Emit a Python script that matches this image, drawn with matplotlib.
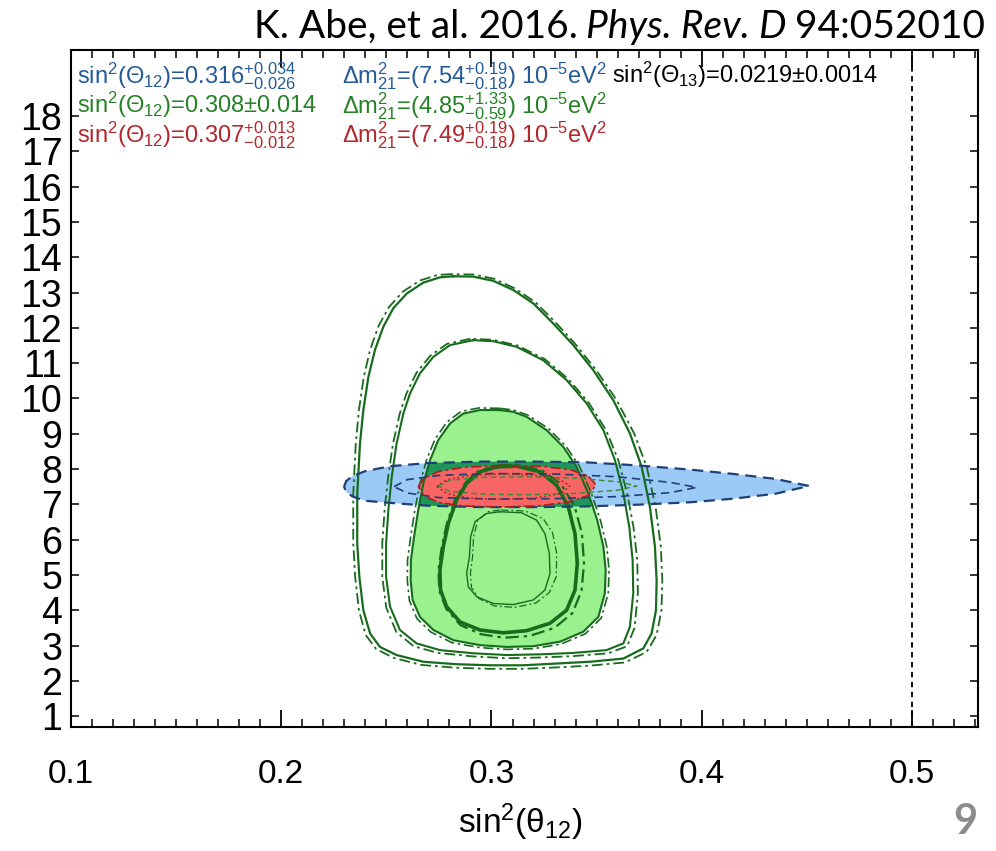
import matplotlib
matplotlib.use('Agg')
import matplotlib.pyplot as plt
from matplotlib.patches import Polygon
from matplotlib.ticker import MultipleLocator

plt.rcParams['font.family'] = ['Liberation Sans', 'DejaVu Sans']
plt.rcParams['mathtext.fontset'] = 'custom'
plt.rcParams['mathtext.rm'] = 'Liberation Sans'
plt.rcParams['mathtext.it'] = 'Liberation Sans:italic'
plt.rcParams['mathtext.bf'] = 'Liberation Sans:bold'

# ---------------- data ----------------
# solar outermost contour (solid) and its dash-dot companion
solA_x = [0.2819, 0.2755, 0.2676, 0.2597, 0.2533, 0.2486, 0.2446, 0.2415, 0.2391, 0.2375, 0.2362,
          0.2362, 0.2372, 0.2391, 0.2423, 0.2470, 0.2549, 0.2676, 0.2834, 0.2993, 0.3151, 0.3310,
          0.3468, 0.3627, 0.3722, 0.3761, 0.3782, 0.3785, 0.3777, 0.3753, 0.3714, 0.3658, 0.3579,
          0.3484, 0.3389, 0.3294, 0.3199, 0.3104, 0.3009, 0.2914]
solA_y = [13.46, 13.43, 13.28, 12.97, 12.55, 12.03, 11.37, 10.61, 9.67, 8.72, 7.31,
          5.89, 4.95, 4.00, 3.34, 2.96, 2.73, 2.54, 2.47, 2.44, 2.44, 2.49,
          2.54, 2.63, 2.92, 3.34, 4.00, 4.85, 5.80, 6.93, 8.06, 9.01, 9.95,
          10.80, 11.51, 12.12, 12.69, 13.07, 13.33, 13.45]
solA2_x = [0.2810, 0.2745, 0.2660, 0.2578, 0.2512, 0.2463, 0.2423, 0.2393, 0.2370, 0.2355, 0.2343,
           0.2343, 0.2352, 0.2370, 0.2402, 0.2452, 0.2535, 0.2666, 0.2830, 0.2993, 0.3151, 0.3310,
           0.3468, 0.3635, 0.3738, 0.3785, 0.3808, 0.3812, 0.3805, 0.3780, 0.3738, 0.3678, 0.3595,
           0.3498, 0.3400, 0.3305, 0.3208, 0.3110, 0.3012, 0.2914]
solA2_y = [13.52, 13.50, 13.34, 13.02, 12.58, 12.05, 11.37, 10.61, 9.67, 8.72, 7.31,
           5.89, 4.95, 4.00, 3.30, 2.90, 2.65, 2.45, 2.37, 2.34, 2.34, 2.38,
           2.43, 2.52, 2.82, 3.30, 4.00, 4.85, 5.80, 6.93, 8.06, 9.01, 9.95,
           10.80, 11.53, 12.15, 12.73, 13.12, 13.39, 13.51]
# second contour
solB_x = [0.2914, 0.2803, 0.2724, 0.2660, 0.2613, 0.2581, 0.2549, 0.2526, 0.2510, 0.2499, 0.2499,
          0.2518, 0.2565, 0.2644, 0.2755, 0.2914, 0.3072, 0.3231, 0.3389, 0.3547, 0.3627, 0.3658,
          0.3674, 0.3671, 0.3655, 0.3627, 0.3587, 0.3532, 0.3452, 0.3357, 0.3246, 0.3120, 0.3009]
solB_y = [11.65, 11.51, 11.18, 10.71, 10.14, 9.57, 8.72, 7.78, 6.84, 5.89, 4.95,
          4.10, 3.44, 3.06, 2.87, 2.78, 2.73, 2.75, 2.79, 2.87, 3.06, 3.53,
          4.48, 5.42, 6.36, 7.31, 8.25, 9.10, 9.86, 10.52, 11.08, 11.46, 11.62]
solB2_x = [0.2900, 0.2790, 0.2708, 0.2643, 0.2596, 0.2564, 0.2532, 0.2509, 0.2492, 0.2481, 0.2481,
           0.2500, 0.2548, 0.2630, 0.2745, 0.2914, 0.3072, 0.3231, 0.3389, 0.3555, 0.3645, 0.3680,
           0.3696, 0.3693, 0.3675, 0.3645, 0.3603, 0.3545, 0.3462, 0.3365, 0.3252, 0.3122, 0.3009]
solB2_y = [11.69, 11.55, 11.20, 10.72, 10.14, 9.57, 8.72, 7.78, 6.84, 5.89, 4.95,
           4.07, 3.38, 2.98, 2.79, 2.69, 2.64, 2.66, 2.70, 2.78, 2.98, 3.50,
           4.48, 5.42, 6.36, 7.31, 8.25, 9.10, 9.88, 10.55, 11.12, 11.50, 11.66]
# filled contour
solC_x = [0.3040, 0.2945, 0.2866, 0.2803, 0.2747, 0.2708, 0.2676, 0.2652, 0.2632, 0.2617, 0.2616,
          0.2625, 0.2660, 0.2724, 0.2819, 0.2945, 0.3072, 0.3199, 0.3326, 0.3436, 0.3508, 0.3539,
          0.3543, 0.3532, 0.3503, 0.3460, 0.3405, 0.3341, 0.3262, 0.3167, 0.3104]
solC_y = [9.67, 9.67, 9.57, 9.29, 8.82, 8.25, 7.59, 6.84, 6.08, 5.42, 4.85,
          4.29, 3.81, 3.44, 3.15, 3.01, 2.96, 2.98, 3.11, 3.39, 3.81, 4.48,
          5.14, 5.80, 6.55, 7.31, 8.06, 8.63, 9.10, 9.48, 9.62]
solC2_x = [0.3040, 0.2940, 0.2855, 0.2788, 0.2732, 0.2692, 0.2660, 0.2636, 0.2616, 0.2601, 0.2600,
           0.2610, 0.2646, 0.2712, 0.2812, 0.2945, 0.3072, 0.3199, 0.3330, 0.3446, 0.3522, 0.3555,
           0.3559, 0.3548, 0.3518, 0.3475, 0.3418, 0.3352, 0.3270, 0.3172, 0.3104]
solC2_y = [9.72, 9.73, 9.63, 9.33, 8.85, 8.27, 7.59, 6.84, 6.08, 5.42, 4.85,
           4.27, 3.76, 3.38, 3.08, 2.94, 2.89, 2.91, 3.04, 3.33, 3.78, 4.48,
           5.14, 5.80, 6.55, 7.31, 8.08, 8.66, 9.15, 9.53, 9.67]
# thick inner contour
solD_x = [0.3025, 0.2945, 0.2882, 0.2834, 0.2795, 0.2771, 0.2755, 0.2758, 0.2787, 0.2850, 0.2945,
          0.3056, 0.3167, 0.3278, 0.3357, 0.3397, 0.3408, 0.3397, 0.3365, 0.3310, 0.3231, 0.3120]
solD_y = [8.06, 7.92, 7.59, 7.12, 6.46, 5.80, 5.14, 4.57, 4.10, 3.67, 3.44,
          3.36, 3.42, 3.63, 4.00, 4.57, 5.32, 6.17, 6.93, 7.54, 7.92, 8.08]
solD2_x = [0.3025, 0.2940, 0.2876, 0.2827, 0.2788, 0.2764, 0.2748, 0.2752, 0.2785, 0.2852, 0.2950,
           0.3060, 0.3180, 0.3300, 0.3385, 0.3428, 0.3440, 0.3430, 0.3395, 0.3330, 0.3240, 0.3125]
solD2_y = [8.10, 7.95, 7.61, 7.13, 6.46, 5.80, 5.14, 4.55, 4.04, 3.58, 3.32,
           3.22, 3.27, 3.50, 3.92, 4.55, 5.32, 6.17, 6.95, 7.58, 7.96, 8.12]
# smallest contour
solE_x = [0.3040, 0.2977, 0.2922, 0.2901, 0.2895, 0.2882, 0.2890, 0.2930, 0.3009, 0.3104, 0.3199,
          0.3254, 0.3278, 0.3275, 0.3254, 0.3215, 0.3143]
solE_y = [6.79, 6.74, 6.51, 6.08, 5.51, 5.04, 4.66, 4.38, 4.19, 4.16, 4.29,
          4.57, 5.04, 5.61, 6.17, 6.55, 6.76]
solE2_x = [0.3040, 0.2985, 0.2935, 0.2915, 0.2910, 0.2900, 0.2905, 0.2940, 0.3015, 0.3110, 0.3210,
           0.3275, 0.3308, 0.3310, 0.3290, 0.3245, 0.3160]
solE2_y = [6.84, 6.79, 6.55, 6.08, 5.51, 5.04, 4.64, 4.33, 4.12, 4.08, 4.20,
           4.50, 4.95, 5.61, 6.20, 6.60, 6.81]
# KamLAND (blue) region and inner contour
kl_x = [0.2299, 0.2310, 0.2340, 0.2400, 0.2520, 0.2700, 0.2950, 0.3200, 0.3450, 0.3700, 0.3950,
        0.4150, 0.4350, 0.4509, 0.4350, 0.4150, 0.3950, 0.3700, 0.3450, 0.3200, 0.2950, 0.2700,
        0.2520, 0.2400, 0.2340, 0.2310]
kl_y = [7.50, 7.66, 7.80, 7.94, 8.08, 8.17, 8.21, 8.21, 8.19, 8.10, 7.98,
        7.86, 7.72, 7.52, 7.30, 7.16, 7.06, 6.99, 6.94, 6.92, 6.92, 6.96,
        7.04, 7.10, 7.22, 7.35]
klin_x = [0.2537, 0.2600, 0.2750, 0.3000, 0.3300, 0.3600, 0.3850, 0.3975, 0.3850, 0.3600, 0.3300,
          0.3000, 0.2750, 0.2600]
klin_y = [7.50, 7.70, 7.82, 7.87, 7.86, 7.78, 7.62, 7.48, 7.33, 7.22, 7.16,
          7.15, 7.19, 7.32]
# combined (red) region and inner contours
cb_x = [0.2652, 0.2680, 0.2750, 0.2870, 0.3050, 0.3250, 0.3380, 0.3460, 0.3497, 0.3460, 0.3370,
        0.3230, 0.3050, 0.2870, 0.2750, 0.2680]
cb_y = [7.50, 7.75, 7.93, 8.05, 8.10, 8.07, 7.97, 7.80, 7.55, 7.25, 7.07,
        6.96, 6.92, 6.95, 7.05, 7.24]
cbin_x = [0.2740, 0.2790, 0.2900, 0.3050, 0.3200, 0.3320, 0.3373, 0.3330, 0.3210, 0.3050, 0.2900,
          0.2790]
cbin_y = [7.50, 7.70, 7.82, 7.86, 7.83, 7.72, 7.52, 7.30, 7.18, 7.14, 7.17,
          7.30]
gin_x = [0.2746, 0.2800, 0.2950, 0.3150, 0.3400, 0.3600, 0.3690, 0.3600, 0.3400, 0.3150, 0.2950,
         0.2800]
gin_y = [7.52, 7.68, 7.76, 7.78, 7.74, 7.64, 7.52, 7.40, 7.31, 7.27, 7.29,
         7.37]

maximal_mixing = 0.5
x_ticks = [0.1, 0.2, 0.3, 0.4, 0.5]
x_ticklabels = ['0.1', '0.2', '0.3', '0.4', '0.5']
y_ticks = list(range(1, 19))
y_ticklabels = [str(v) for v in y_ticks]

# ---------------- styles ----------------
C_GREEN_LINE = '#176b1c'
C_GREEN_FILL = '#9af28e'
C_BLUE_FILL = '#9ccaf7'
C_BLUE_LINE = '#1f3f78'
C_RED_FILL = '#f86565'
C_RED_LINE = '#b01c1c'
C_OVERLAP = '#1f955a'
DASHDOT = (0, (6, 2.2, 1.5, 2.2))


def closed(xs, ys):
    return list(xs) + [xs[0]], list(ys) + [ys[0]]


def poly(xs, ys, **kw):
    return Polygon(list(zip(xs, ys)), closed=True, **kw)


fig = plt.figure(figsize=(9.96, 8.51), dpi=100)
ax = fig.add_axes([0.07098, 0.14606, 0.91125, 0.79518])

# filled regions
ax.add_patch(poly(kl_x, kl_y, facecolor=C_BLUE_FILL, edgecolor='none', zorder=1))
green_patch = poly(solC_x, solC_y, facecolor=C_GREEN_FILL, edgecolor='none', zorder=2)
ax.add_patch(green_patch)
ov = poly(kl_x, kl_y, facecolor=C_OVERLAP, edgecolor='none', zorder=3)
ax.add_patch(ov)
ov.set_clip_path(green_patch)
ax.add_patch(poly(cb_x, cb_y, facecolor=C_RED_FILL, edgecolor='none', zorder=4))

# solar contour lines
for xs, ys, lw in [(solA_x, solA_y, 1.6), (solB_x, solB_y, 1.5), (solC_x, solC_y, 1.5),
                   (solD_x, solD_y, 2.6), (solE_x, solE_y, 1.0)]:
    cx, cy = closed(xs, ys)
    ax.plot(cx, cy, color=C_GREEN_LINE, lw=lw, zorder=6, solid_joinstyle='round')
for xs, ys, lw in [(solA2_x, solA2_y, 1.3), (solB2_x, solB2_y, 1.3), (solC2_x, solC2_y, 1.2),
                   (solD2_x, solD2_y, 1.6), (solE2_x, solE2_y, 0.9)]:
    cx, cy = closed(xs, ys)
    ax.plot(cx, cy, color=C_GREEN_LINE, lw=lw, ls=DASHDOT, zorder=6)

# KamLAND / combined outlines
cx, cy = closed(kl_x, kl_y)
ax.plot(cx, cy, color=C_BLUE_LINE, lw=1.6, ls=(0, (5, 3)), zorder=7)
cx, cy = closed(klin_x, klin_y)
ax.plot(cx, cy, color=C_BLUE_LINE, lw=1.2, ls=(0, (5, 3)), zorder=7)
cx, cy = closed(cb_x, cb_y)
ax.plot(cx, cy, color=C_RED_LINE, lw=1.2, ls=DASHDOT, zorder=7)
cx, cy = closed(cbin_x, cbin_y)
ax.plot(cx, cy, color=C_RED_LINE, lw=1.1, ls=(0, (1.2, 1.8)), zorder=7)
cx, cy = closed(gin_x, gin_y)
ax.plot(cx, cy, color='#3a8a2a', lw=1.0, ls=(0, (4, 2.5)), zorder=7)

# maximal mixing line
ax.axvline(maximal_mixing, color='black', lw=1.3, ls=(0, (3, 2.5)), zorder=5)

# axes
ax.set_xlim(0.1, 0.5314)
ax.set_ylim(0.70, 19.87)
ax.set_xticks(x_ticks)
ax.set_xticklabels(x_ticklabels)
ax.xaxis.set_minor_locator(MultipleLocator(0.01))
ax.set_yticks(y_ticks)
ax.set_yticklabels(y_ticklabels)
ax.set_yticks([10], minor=True)
for s in ax.spines.values():
    s.set_linewidth(1.5)
ax.tick_params(axis='x', which='major', direction='in', top=True, length=12, width=1.3,
               labelsize=24, pad=23)
ax.tick_params(axis='x', which='minor', direction='in', top=True, length=6, width=1.1)
ax.tick_params(axis='y', which='major', direction='in', right=True, length=6, width=1.1,
               labelsize=27, pad=6)
ax.tick_params(axis='y', which='minor', direction='in', right=True, length=12, width=1.3)

# in-plot legend text
FS = 17
rows = [0.9512, 0.9069, 0.8640]
ax.text(0.0069, rows[0], 'sin$^2$(Θ$_{12}$)=0.316$^{+0.034}_{-0.026}$', color='#245a9a',
        fontsize=FS, transform=ax.transAxes, va='baseline')
ax.text(0.0069, rows[1], 'sin$^2$(Θ$_{12}$)=0.308±0.014', color='#268226',
        fontsize=FS, transform=ax.transAxes, va='baseline')
ax.text(0.0069, rows[2], 'sin$^2$(Θ$_{12}$)=0.307$^{+0.013}_{-0.012}$', color='#b3262b',
        fontsize=FS, transform=ax.transAxes, va='baseline')
ax.text(0.2986, rows[0], 'Δm$^2_{21}$=(7.54$^{+0.19}_{-0.18}$) 10$^{-5}$eV$^2$', color='#245a9a',
        fontsize=FS, transform=ax.transAxes, va='baseline')
ax.text(0.2986, rows[1], 'Δm$^2_{21}$=(4.85$^{+1.33}_{-0.59}$) 10$^{-5}$eV$^2$', color='#268226',
        fontsize=FS, transform=ax.transAxes, va='baseline')
ax.text(0.2986, rows[2], 'Δm$^2_{21}$=(7.49$^{+0.19}_{-0.18}$) 10$^{-5}$eV$^2$', color='#b3262b',
        fontsize=FS, transform=ax.transAxes, va='baseline')
ax.text(0.596, rows[0], 'sin$^2$(Θ$_{13}$)=0.0219±0.0014', color='black',
        fontsize=FS, transform=ax.transAxes, va='baseline')

# x label
fig.text(0.523, 1 - 822 / 851, 'sin$^2$(θ$_{12}$)', fontsize=24, ha='center', va='center')

# citation
TF = 28
t3 = fig.text(0.989, 1 - 38 / 851, '94:052010', fontsize=TF, family='Lato', ha='right',
              va='baseline')
t2 = ax.annotate('Phys. Rev. D', xy=(0, 0), xycoords=t3, xytext=(-6, 0),
                 textcoords='offset points', fontsize=TF, family='Lato', style='italic',
                 ha='right', va='bottom', annotation_clip=False)
t1 = ax.annotate('K. Abe, et al. 2016.', xy=(0, 0), xycoords=t2, xytext=(-6, 0),
                 textcoords='offset points', fontsize=TF, family='Lato',
                 ha='right', va='bottom', annotation_clip=False)

# slide number
fig.text(0.969, 1 - 822 / 851, '9', fontsize=30, family='Lato', fontweight='bold',
         color='#8c8c8c', ha='center', va='center')

fig.savefig('out.png', dpi=100)
